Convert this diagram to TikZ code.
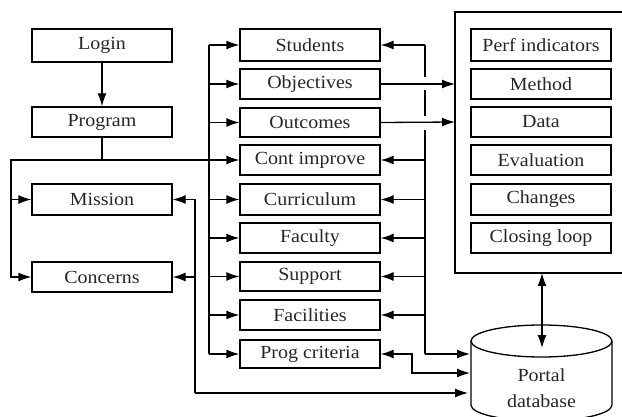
\documentclass[tikz,border=0pt]{standalone}
\usepackage{fontspec}
\setmainfont{Liberation Serif}[FakeStretch=1.08]
\usetikzlibrary{arrows.meta}
\begin{document}
\begin{tikzpicture}[x=1pt,y=-1pt,
  line width=1.3pt,
  box/.style={draw, line width=1.3pt, minimum width=140pt, inner sep=0pt, font=\fontsize{18.5}{20}\selectfont, text=black!85},
  arr/.style={-{Latex[length=13pt,width=9pt]}},
  darr/.style={{Latex[length=13pt,width=9pt]}-{Latex[length=13pt,width=9pt]}}]
\useasboundingbox (0,0) rectangle (622,417);
% left column
\node[box, minimum height=33pt] (login) at (102,45.5) {Login};
\node[box, minimum height=30pt] (program) at (102,122) {Program};
\node[box, minimum height=31pt] (mission) at (102,199.5) {Mission};
\node[box, minimum height=30pt] (concerns) at (102,277) {Concerns};
% middle column
\node[box, minimum height=32pt] (students) at (310,45) {Students};
\node[box, minimum height=30pt] (objectives) at (310,84) {Objectives};
\node[box, minimum height=29pt] (outcomes) at (310,122.5) {Outcomes};
\node[box, minimum height=30pt] (contimp) at (310,160) {Cont improve};
\node[box, minimum height=31pt] (curriculum) at (310,199.5) {Curriculum};
\node[box, minimum height=30pt] (faculty) at (310,238) {Faculty};
\node[box, minimum height=29pt] (support) at (310,276.5) {Support};
\node[box, minimum height=30pt] (facilities) at (310,315) {Facilities};
\node[box, minimum height=28pt] (progcrit) at (310,354) {Prog criteria};
% assessment frame
\draw (625,12) -- (455,12) -- (455,273) -- (625,273);
\coordinate (frameobj) at (455,84);
\coordinate (frameout) at (455,122);
\coordinate (frametop) at (542,273);
\node[box, minimum height=32pt] (perf) at (541,45) {Perf indicators};
\node[box, minimum height=30pt] (method) at (541,84) {Method};
\node[box, minimum height=30pt] (data) at (541,122) {Data};
\node[box, minimum height=30pt] (evaluation) at (541,160) {Evaluation};
\node[box, minimum height=31pt] (changes) at (541,199.5) {Changes};
\node[box, minimum height=30pt] (closing) at (541,238) {Closing loop};
% database
\draw (471,341) -- (471,405) arc(180:0:70.5 and 16) -- (612,341);
\draw (541.5,341) ellipse (70.5 and 16);
\node[align=center, font=\fontsize{18.5}{26}\selectfont, text=black!85] (db) at (541.5,388) {Portal\\database};
\coordinate (dbtop) at (542,348);
\coordinate (db1) at (470,354);
\coordinate (db2) at (470,373);
\coordinate (db3) at (468,393);
% connectors
\draw[arr] (login) -- (program);
\coordinate (pj) at (102,160);
\coordinate (lj) at (11,160);
\draw (program.south) -- (pj) -- (lj) -- (11,277);
\draw[arr] (pj) -- (contimp.west);
\draw[arr] (lj) |- (mission.west);
\draw[arr] (lj) |- (concerns.west);
% left bus
\coordinate (lbt) at (209,45);
\coordinate (lbb) at (209,354);
\draw (lbt) -- (lbb);
\foreach \n in {students,objectives,outcomes,curriculum,faculty,support,facilities,progcrit}
  \draw[arr] (lbt |- \n.west) -- (\n.west);
% right bus
\coordinate (rbt) at (425,45);
\coordinate (rbb) at (425,354);
\draw (rbt) -- (425,77);
\draw (425,90) -- (425,116);
\draw (425,130) -- (rbb);
\foreach \n in {students,contimp,curriculum,faculty,support,facilities}
  \draw[arr] (rbt |- \n.east) -- (\n.east);
\draw[arr] (rbb) -- (db1);
\draw[arr] (objectives.east) -- (frameobj);
\draw[arr] (outcomes.east) -- (frameout);
\draw[darr] (progcrit.east) -- (412,354) -- (412,373) -- (db2);
% mission / concerns bus
\coordinate (mbt) at (195,199.5);
\coordinate (mbb) at (195,393);
\draw[arr] (mbb) -- (mbt) -- (mission.east);
\draw[arr] (mbt |- concerns.east) -- (concerns.east);
\draw[arr] (mbb) -- (db3);
\draw[darr] (frametop) -- (dbtop);
\end{tikzpicture}
\end{document}
